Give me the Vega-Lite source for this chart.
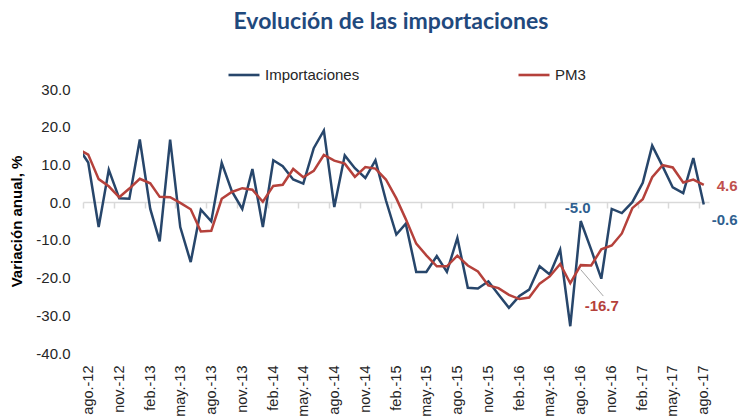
{
  "$schema": "https://vega.github.io/schema/vega-lite/v6.json",
  "autosize": {"type": "none"},
  "padding": {"left": 83, "top": 89, "right": 37, "bottom": 64},
  "width": 626,
  "height": 264,
  "background": "white",
  "title": {
    "text": "Evolución de las importaciones",
    "font": "Lato",
    "fontSize": 23,
    "fontWeight": "bold",
    "color": "#1f497d",
    "anchor": "middle",
    "offset": 24,
    "dx": -5
  },
  "config": {
    "view": {"stroke": null},
    "font": "Liberation Sans",
    "locale": {
      "number": {"decimal": ".", "thousands": ",", "grouping": [3], "currency": ["$", ""], "minus": "-"},
      "time": {
        "dateTime": "%A, %e de %B de %Y, %X",
        "date": "%d/%m/%Y",
        "time": "%H:%M:%S",
        "periods": ["AM", "PM"],
        "days": ["domingo", "lunes", "martes", "miércoles", "jueves", "viernes", "sábado"],
        "shortDays": ["dom", "lun", "mar", "mié", "jue", "vie", "sáb"],
        "months": ["enero", "febrero", "marzo", "abril", "mayo", "junio", "julio", "agosto", "septiembre", "octubre", "noviembre", "diciembre"],
        "shortMonths": ["ene.", "feb.", "mar.", "abr.", "may.", "jun.", "jul.", "ago.", "sept.", "oct.", "nov.", "dic."]
      }
    },
    "axis": {"labelFont": "Liberation Sans", "titleFont": "Liberation Sans"},
    "legend": {"labelFont": "Liberation Sans"},
    "text": {"font": "Liberation Sans"}
  },
  "datasets": {
    "serie": [
      {"mes": "2012-07-01", "Importaciones": 14.7, "PM3": 14.1},
      {"mes": "2012-08-01", "Importaciones": 10.5, "PM3": 12.6},
      {"mes": "2012-09-01", "Importaciones": -6.6, "PM3": 6.1},
      {"mes": "2012-10-01", "Importaciones": 8.6, "PM3": 4.2},
      {"mes": "2012-11-01", "Importaciones": 1.0, "PM3": 1.3},
      {"mes": "2012-12-01", "Importaciones": 0.9, "PM3": 3.6},
      {"mes": "2013-01-01", "Importaciones": 16.6, "PM3": 6.2},
      {"mes": "2013-02-01", "Importaciones": -1.8, "PM3": 5.0},
      {"mes": "2013-03-01", "Importaciones": -10.4, "PM3": 1.4},
      {"mes": "2013-04-01", "Importaciones": 16.6, "PM3": 1.3},
      {"mes": "2013-05-01", "Importaciones": -6.6, "PM3": -0.2},
      {"mes": "2013-06-01", "Importaciones": -15.9, "PM3": -1.9},
      {"mes": "2013-07-01", "Importaciones": -2.0, "PM3": -7.8},
      {"mes": "2013-08-01", "Importaciones": -5.1, "PM3": -7.6},
      {"mes": "2013-09-01", "Importaciones": 10.4, "PM3": 0.9},
      {"mes": "2013-10-01", "Importaciones": 2.9, "PM3": 2.7},
      {"mes": "2013-11-01", "Importaciones": -1.8, "PM3": 3.7},
      {"mes": "2013-12-01", "Importaciones": 8.8, "PM3": 3.3},
      {"mes": "2014-01-01", "Importaciones": -6.6, "PM3": 0.1},
      {"mes": "2014-02-01", "Importaciones": 11.1, "PM3": 4.3},
      {"mes": "2014-03-01", "Importaciones": 9.5, "PM3": 4.6},
      {"mes": "2014-04-01", "Importaciones": 6.0, "PM3": 8.8},
      {"mes": "2014-05-01", "Importaciones": 4.9, "PM3": 6.6},
      {"mes": "2014-06-01", "Importaciones": 14.3, "PM3": 8.3},
      {"mes": "2014-07-01", "Importaciones": 19.0, "PM3": 12.5},
      {"mes": "2014-08-01", "Importaciones": -1.3, "PM3": 11.0},
      {"mes": "2014-09-01", "Importaciones": 12.4, "PM3": 10.2},
      {"mes": "2014-10-01", "Importaciones": 9.0, "PM3": 6.7},
      {"mes": "2014-11-01", "Importaciones": 6.4, "PM3": 9.3},
      {"mes": "2014-12-01", "Importaciones": 11.1, "PM3": 8.9},
      {"mes": "2015-01-01", "Importaciones": 0.5, "PM3": 6.0},
      {"mes": "2015-02-01", "Importaciones": -8.6, "PM3": 1.0},
      {"mes": "2015-03-01", "Importaciones": -5.7, "PM3": -4.5},
      {"mes": "2015-04-01", "Importaciones": -18.5, "PM3": -11.0},
      {"mes": "2015-05-01", "Importaciones": -18.5, "PM3": -14.1},
      {"mes": "2015-06-01", "Importaciones": -14.3, "PM3": -17.0},
      {"mes": "2015-07-01", "Importaciones": -18.5, "PM3": -17.0},
      {"mes": "2015-08-01", "Importaciones": -9.5, "PM3": -14.2},
      {"mes": "2015-09-01", "Importaciones": -22.7, "PM3": -16.8},
      {"mes": "2015-10-01", "Importaciones": -22.9, "PM3": -18.4},
      {"mes": "2015-11-01", "Importaciones": -21.0, "PM3": -22.1},
      {"mes": "2015-12-01", "Importaciones": -24.5, "PM3": -22.8},
      {"mes": "2016-01-01", "Importaciones": -28.0, "PM3": -24.6},
      {"mes": "2016-02-01", "Importaciones": -24.9, "PM3": -25.7},
      {"mes": "2016-03-01", "Importaciones": -23.2, "PM3": -25.3},
      {"mes": "2016-04-01", "Importaciones": -17.0, "PM3": -21.6},
      {"mes": "2016-05-01", "Importaciones": -19.2, "PM3": -19.7},
      {"mes": "2016-06-01", "Importaciones": -12.6, "PM3": -16.4},
      {"mes": "2016-07-01", "Importaciones": -32.9, "PM3": -21.5},
      {"mes": "2016-08-01", "Importaciones": -5.0, "PM3": -16.7},
      {"mes": "2016-09-01", "Importaciones": -12.6, "PM3": -16.8},
      {"mes": "2016-10-01", "Importaciones": -20.3, "PM3": -12.5},
      {"mes": "2016-11-01", "Importaciones": -1.8, "PM3": -11.5},
      {"mes": "2016-12-01", "Importaciones": -2.9, "PM3": -8.3},
      {"mes": "2017-01-01", "Importaciones": 0.0, "PM3": -1.6},
      {"mes": "2017-02-01", "Importaciones": 5.1, "PM3": 0.8},
      {"mes": "2017-03-01", "Importaciones": 15.0, "PM3": 6.6},
      {"mes": "2017-04-01", "Importaciones": 9.5, "PM3": 9.8},
      {"mes": "2017-05-01", "Importaciones": 3.9, "PM3": 9.2},
      {"mes": "2017-06-01", "Importaciones": 2.4, "PM3": 5.2},
      {"mes": "2017-07-01", "Importaciones": 11.7, "PM3": 6.0},
      {"mes": "2017-08-01", "Importaciones": -0.6, "PM3": 4.6}
    ]
  },
  "encoding": {
    "y": {
      "field": "valor",
      "type": "quantitative",
      "scale": {"domain": [-40, 30], "nice": false, "zero": false},
      "axis": {
        "title": "Variación anual, %",
        "titleFont": "Liberation Sans",
        "titleFontSize": 15,
        "titleFontWeight": "bold",
        "titleColor": "#000000",
        "titlePadding": 11,
        "values": [-40, -30, -20, -10, 0, 10, 20, 30],
        "format": ".1f",
        "domain": false,
        "ticks": false,
        "grid": false,
        "labelOverlap": false,
        "labelPadding": 13,
        "labelFont": "Liberation Sans",
        "labelFontSize": 15,
        "labelColor": "#262626"
      }
    }
  },
  "layer": [
    {
      "data": {"name": "serie"},
      "transform": [{"fold": ["Importaciones", "PM3"], "as": ["serie", "valor"]}],
      "mark": {"type": "line", "strokeWidth": 2.5, "clip": true, "strokeJoin": "miter", "strokeMiterLimit": 4},
      "encoding": {
        "x": {
          "field": "mes",
          "type": "temporal",
          "scale": {
            "type": "utc",
            "domain": [
              {"year": 2012, "month": 7, "date": 16, "hours": 12, "utc": true},
              {"year": 2017, "month": 8, "date": 16, "hours": 12, "utc": true}
            ]
          },
          "axis": {
            "title": null,
            "orient": "bottom",
            "domain": false,
            "ticks": false,
            "grid": false,
            "labelAngle": 270,
            "labelPadding": 12,
            "labelFont": "Liberation Sans",
            "labelFontSize": 14.5,
            "labelColor": "#262626",
            "labelOverlap": false,
            "format": "%b-%y",
            "values": [
              {"year": 2012, "month": 8, "date": 1, "utc": true},
              {"year": 2012, "month": 11, "date": 1, "utc": true},
              {"year": 2013, "month": 2, "date": 1, "utc": true},
              {"year": 2013, "month": 5, "date": 1, "utc": true},
              {"year": 2013, "month": 8, "date": 1, "utc": true},
              {"year": 2013, "month": 11, "date": 1, "utc": true},
              {"year": 2014, "month": 2, "date": 1, "utc": true},
              {"year": 2014, "month": 5, "date": 1, "utc": true},
              {"year": 2014, "month": 8, "date": 1, "utc": true},
              {"year": 2014, "month": 11, "date": 1, "utc": true},
              {"year": 2015, "month": 2, "date": 1, "utc": true},
              {"year": 2015, "month": 5, "date": 1, "utc": true},
              {"year": 2015, "month": 8, "date": 1, "utc": true},
              {"year": 2015, "month": 11, "date": 1, "utc": true},
              {"year": 2016, "month": 2, "date": 1, "utc": true},
              {"year": 2016, "month": 5, "date": 1, "utc": true},
              {"year": 2016, "month": 8, "date": 1, "utc": true},
              {"year": 2016, "month": 11, "date": 1, "utc": true},
              {"year": 2017, "month": 2, "date": 1, "utc": true},
              {"year": 2017, "month": 5, "date": 1, "utc": true},
              {"year": 2017, "month": 8, "date": 1, "utc": true}
            ]
          }
        },
        "color": {
          "field": "serie",
          "type": "nominal",
          "scale": {"domain": ["Importaciones", "PM3"], "range": ["#27466b", "#b5413b"]},
          "legend": {
            "title": null,
            "orient": "none",
            "legendX": 144,
            "legendY": -31,
            "direction": "horizontal",
            "columns": 2,
            "columnPadding": 153,
            "symbolType": "stroke",
            "symbolSize": 961,
            "symbolStrokeWidth": 2.6,
            "labelFont": "Liberation Sans",
            "labelFontSize": 15,
            "labelColor": "#262626",
            "labelOffset": 4,
            "labelLimit": 200
          }
        }
      }
    },
    {
      "data": {"values": [{"mes": "2016-08-01", "valor": -17.9, "mes2": "2016-10-07", "valor2": -24.9}]},
      "mark": {"type": "rule", "color": "#a6a6a6", "strokeWidth": 1},
      "encoding": {
        "x": {"field": "mes", "type": "temporal", "axis": {
            "title": null,
            "orient": "bottom",
            "offset": -151,
            "labels": false,
            "grid": false,
            "domain": true,
            "domainColor": "#d9d9d9",
            "domainWidth": 1.5,
            "ticks": true,
            "tickColor": "#d9d9d9",
            "tickWidth": 1.5,
            "tickSize": 6,
            "values": [
              {"year": 2012, "month": 7, "date": 16, "hours": 12, "utc": true},
              {"year": 2012, "month": 10, "date": 16, "hours": 12, "utc": true},
              {"year": 2013, "month": 1, "date": 16, "hours": 12, "utc": true},
              {"year": 2013, "month": 4, "date": 16, "hours": 12, "utc": true},
              {"year": 2013, "month": 7, "date": 16, "hours": 12, "utc": true},
              {"year": 2013, "month": 10, "date": 16, "hours": 12, "utc": true},
              {"year": 2014, "month": 1, "date": 16, "hours": 12, "utc": true},
              {"year": 2014, "month": 4, "date": 16, "hours": 12, "utc": true},
              {"year": 2014, "month": 7, "date": 16, "hours": 12, "utc": true},
              {"year": 2014, "month": 10, "date": 16, "hours": 12, "utc": true},
              {"year": 2015, "month": 1, "date": 16, "hours": 12, "utc": true},
              {"year": 2015, "month": 4, "date": 16, "hours": 12, "utc": true},
              {"year": 2015, "month": 7, "date": 16, "hours": 12, "utc": true},
              {"year": 2015, "month": 10, "date": 16, "hours": 12, "utc": true},
              {"year": 2016, "month": 1, "date": 16, "hours": 12, "utc": true},
              {"year": 2016, "month": 4, "date": 16, "hours": 12, "utc": true},
              {"year": 2016, "month": 7, "date": 16, "hours": 12, "utc": true},
              {"year": 2016, "month": 10, "date": 16, "hours": 12, "utc": true},
              {"year": 2017, "month": 1, "date": 16, "hours": 12, "utc": true},
              {"year": 2017, "month": 4, "date": 16, "hours": 12, "utc": true},
              {"year": 2017, "month": 7, "date": 16, "hours": 12, "utc": true}
            ]
          }},
        "x2": {"field": "mes2"},
        "y2": {"field": "valor2"}
      }
    },
    {
      "data": {"values": [{"mes": "2016-08-01", "valor": -5.0, "etiqueta": "-5.0"}]},
      "mark": {"type": "text", "font": "Liberation Sans", "fontSize": 15, "fontWeight": "bold", "color": "#2f5f8f", "align": "center", "baseline": "middle", "dx": -3, "dy": -13},
      "encoding": {
        "x": {"field": "mes", "type": "temporal", "axis": null},
        "text": {"field": "etiqueta"}
      }
    },
    {
      "data": {"values": [{"mes": "2016-08-01", "valor": -16.7, "etiqueta": "-16.7"}]},
      "mark": {"type": "text", "font": "Liberation Sans", "fontSize": 15, "fontWeight": "bold", "color": "#b5413b", "align": "center", "baseline": "middle", "dx": 21, "dy": 41},
      "encoding": {
        "x": {"field": "mes", "type": "temporal", "axis": null},
        "text": {"field": "etiqueta"}
      }
    },
    {
      "data": {"values": [{"mes": "2017-08-01", "valor": 4.6, "etiqueta": "4.6"}]},
      "mark": {"type": "text", "font": "Liberation Sans", "fontSize": 15, "fontWeight": "bold", "color": "#c0504d", "align": "left", "baseline": "middle", "dx": 13, "dy": 1},
      "encoding": {
        "x": {"field": "mes", "type": "temporal", "axis": null},
        "text": {"field": "etiqueta"}
      }
    },
    {
      "data": {"values": [{"mes": "2017-08-01", "valor": -0.6, "etiqueta": "-0.6"}]},
      "mark": {"type": "text", "font": "Liberation Sans", "fontSize": 15, "fontWeight": "bold", "color": "#2f5f8f", "align": "left", "baseline": "middle", "dx": 8, "dy": 16},
      "encoding": {
        "x": {"field": "mes", "type": "temporal", "axis": null},
        "text": {"field": "etiqueta"}
      }
    }
  ],
  "resolve": {"axis": {"x": "independent"}}
}
